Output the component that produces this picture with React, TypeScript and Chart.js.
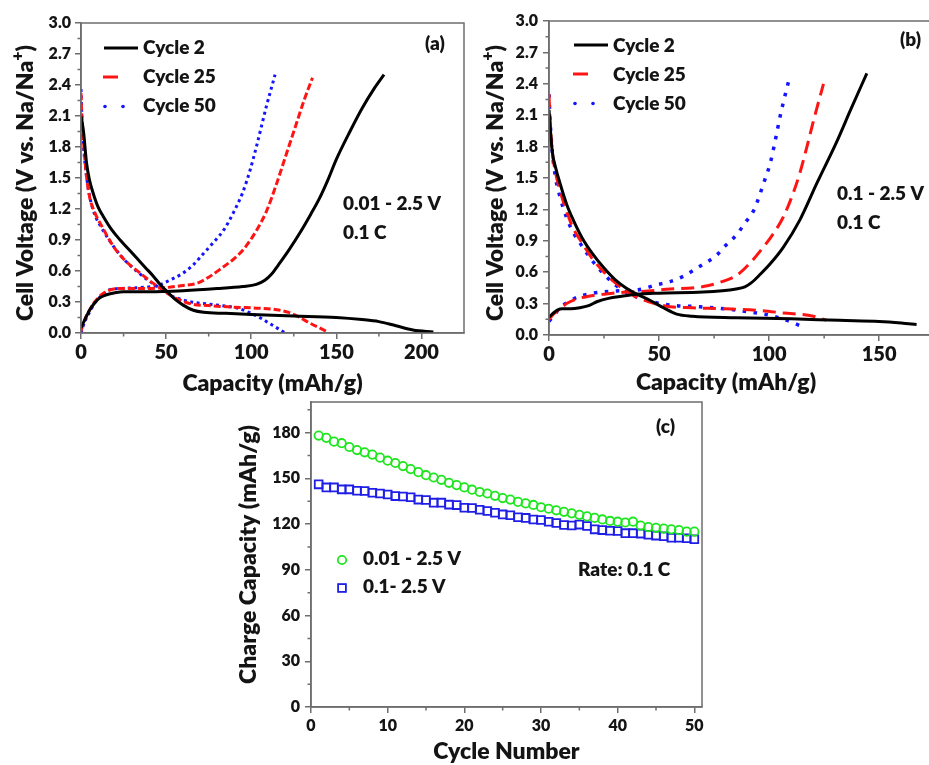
import React, { useEffect, useRef } from "react";
import { Chart, registerables } from "chart.js";

Chart.register(...registerables);

const FONT = "Lato, 'DejaVu Sans', sans-serif";
const WEIGHT = 800;
const AXIS = "#6e6e6e";
const INK = "#141414";
const BLACK = "#000000";
const RED = "#ff1414";
const BLUE = "#1414ff";
const GREEN = "#1ee61e";
const SQ_BLUE = "#1e1ee6";

type P = [number, number];

// ---------- Panel (a): 0.01 - 2.5 V ----------
const aCycle2Discharge: P[] = [
  [0, 2.1], [1.4, 1.96], [3.3, 1.64], [5, 1.48], [7.2, 1.35], [10, 1.22], [13, 1.13], [18, 1.0],
  [23, 0.9], [28, 0.81], [33, 0.72], [38, 0.63], [42.5, 0.55], [46, 0.48], [50, 0.41], [55, 0.33],
  [60, 0.27], [66, 0.22], [72, 0.2], [85, 0.19], [100, 0.18], [125, 0.165], [150, 0.15], [165, 0.13],
  [175, 0.11], [185, 0.07], [195, 0.03], [207, 0.01],
];
const aCycle2Charge: P[] = [
  [0, 0.05], [2, 0.12], [5, 0.22], [8, 0.29], [11, 0.34], [15, 0.37], [20, 0.39], [25, 0.4],
  [40, 0.4], [60, 0.41], [80, 0.43], [95, 0.45], [103, 0.47], [108, 0.51], [112, 0.57], [116, 0.66],
  [122, 0.8], [129, 0.98], [135, 1.15], [140, 1.3], [145, 1.48], [150, 1.68], [158, 1.95],
  [165, 2.17], [172, 2.36], [178, 2.5],
];
const aCycle25Discharge: P[] = [
  [0, 2.32], [0.5, 2.1], [1.5, 1.85], [3, 1.55], [5, 1.32], [8, 1.17], [12, 1.04], [19, 0.84],
  [26, 0.7], [34.7, 0.58], [42.5, 0.48], [48, 0.42], [53, 0.36], [58, 0.32], [65, 0.28], [75, 0.265],
  [90, 0.25], [105, 0.24], [115, 0.225], [122, 0.2], [128, 0.155], [134, 0.1], [140, 0.05], [145, 0.01],
];
const aCycle25Charge: P[] = [
  [0, 0.02], [2, 0.12], [5, 0.22], [8, 0.3], [12, 0.37], [16, 0.41], [22, 0.43], [35, 0.43],
  [50, 0.44], [60, 0.46], [68, 0.48], [75, 0.54], [82, 0.62], [90, 0.72], [96, 0.82], [103, 0.99],
  [109, 1.18], [115, 1.45], [119, 1.65], [123, 1.85], [127, 2.05], [131, 2.25], [136, 2.47],
];
const aCycle50Discharge: P[] = [
  [0, 2.36], [0.5, 2.1], [1.5, 1.8], [3, 1.55], [5, 1.33], [8, 1.15], [12, 1.02], [19, 0.84],
  [26, 0.7], [34, 0.58], [42, 0.48], [48, 0.42], [53, 0.36], [58, 0.33], [65, 0.3], [75, 0.28],
  [85, 0.26], [92, 0.24], [100, 0.19], [106, 0.14], [111, 0.09], [116, 0.04], [120, 0.0],
];
const aCycle50Charge: P[] = [
  [0, 0.0], [2, 0.1], [5, 0.2], [8, 0.29], [12, 0.36], [17, 0.42], [22, 0.43], [35, 0.44],
  [45, 0.46], [52, 0.51], [60, 0.58], [66, 0.66], [72, 0.77], [78, 0.88], [84, 1.0], [90, 1.18],
  [95, 1.36], [99.4, 1.58], [103, 1.8], [106, 2.0], [109, 2.2], [111.5, 2.35], [114, 2.5],
];

// ---------- Panel (b): 0.1 - 2.5 V ----------
const bCycle2Discharge: P[] = [
  [0, 2.15], [0.5, 2.0], [1.5, 1.75], [3, 1.6], [5, 1.45], [8, 1.25], [11, 1.1], [15, 0.93],
  [20, 0.77], [25, 0.64], [30, 0.53], [35, 0.45], [40, 0.39], [46, 0.33], [52, 0.26], [58, 0.2],
  [65, 0.18], [85, 0.165], [110, 0.155], [132, 0.14], [150, 0.13], [160, 0.115], [167, 0.1],
];
const bCycle2Charge: P[] = [
  [0, 0.17], [2, 0.21], [4, 0.24], [6, 0.25], [10, 0.25], [14, 0.26], [18, 0.28], [22, 0.32],
  [27, 0.35], [33, 0.37], [40, 0.39], [50, 0.4], [70, 0.41], [85, 0.44], [89, 0.46], [92, 0.5],
  [96, 0.58], [100.5, 0.68], [106.5, 0.84], [114, 1.1], [121.7, 1.45], [130.8, 1.85], [137, 2.15],
  [144.4, 2.5],
];
const bCycle25Discharge: P[] = [
  [0, 2.3], [0.5, 2.05], [1.5, 1.75], [3, 1.55], [5, 1.38], [8, 1.18], [11, 1.02], [15, 0.88],
  [20, 0.72], [25, 0.6], [30, 0.5], [35, 0.42], [40, 0.36], [45, 0.32], [50, 0.29], [55, 0.27],
  [65, 0.26], [80, 0.25], [95, 0.235], [106.5, 0.21], [120, 0.18], [126, 0.14],
];
const bCycle25Charge: P[] = [
  [0, 0.15], [2, 0.2], [5, 0.25], [8, 0.3], [12, 0.34], [18, 0.37], [25, 0.39], [35, 0.41],
  [45, 0.42], [55, 0.44], [65, 0.45], [72, 0.47], [80, 0.52], [85.3, 0.57], [91, 0.68], [97.4, 0.84],
  [102, 0.97], [106.5, 1.13], [110.5, 1.33], [114, 1.55], [117.2, 1.8], [120.2, 2.05], [124.7, 2.4],
];
const bCycle50Discharge: P[] = [
  [0, 2.3], [0.5, 2.05], [1.5, 1.75], [3, 1.5], [5, 1.32], [8, 1.12], [11, 0.98], [15, 0.85],
  [20, 0.7], [25, 0.58], [30, 0.48], [35, 0.41], [40, 0.36], [45, 0.33], [50.5, 0.3], [58, 0.28],
  [68.6, 0.27], [80, 0.25], [88, 0.23], [94.4, 0.21], [100, 0.19], [108, 0.14], [114, 0.09],
];
const bCycle50Charge: P[] = [
  [0, 0.13], [2, 0.18], [5, 0.26], [9, 0.32], [14, 0.37], [20, 0.4], [30, 0.42], [40, 0.43],
  [49, 0.48], [55, 0.51], [61, 0.56], [68, 0.65], [76, 0.76], [80, 0.85], [85.3, 0.96], [89, 1.07],
  [93, 1.19], [98, 1.48], [100.5, 1.64], [103, 1.88], [105, 2.09], [107, 2.27], [108.8, 2.42],
];

// ---------- Panel (c): cycling ----------
const cycles = [
  1, 2, 3, 4, 5, 6, 7, 8, 9, 10, 11, 12, 13, 14, 15, 16, 17, 18, 19, 20, 21, 22, 23, 24, 25,
  26, 27, 28, 29, 30, 31, 32, 33, 34, 35, 36, 37, 38, 39, 40, 41, 42, 43, 44, 45, 46, 47, 48, 49, 50,
];
const chargeWide = [
  178, 176.5, 174, 173, 170.5, 168.5, 167, 165.5, 163.5, 161.5, 160, 158, 156, 154, 152, 150.5,
  149, 147, 145.5, 144, 142.5, 141, 140, 138.5, 137, 136, 134.5, 133.5, 132.5, 131, 130, 129, 128,
  127, 126, 125, 124, 123, 122, 121.5, 121, 121.5, 119, 118, 117.5, 117, 116.5, 116, 115, 115,
];
const chargeNarrow = [
  146, 144, 144, 142.7, 142.7, 141.8, 141.6, 140.5, 140, 139.4, 138.3, 138, 137.5, 136, 135.7, 134,
  134, 132.7, 132.4, 130.7, 130.5, 129.4, 128.5, 127.4, 126.3, 125.7, 124.4, 124, 123, 122.6, 121.5,
  120.7, 119.4, 119, 119.6, 118.7, 116.5, 116, 115.6, 115.4, 114, 114, 113.7, 113, 112.4, 112, 111,
  111, 110.6, 110,
];

// ---------- Tick values ----------
const capTicksA = [0, 50, 100, 150, 200];
const capMinorA = [25, 75, 125, 175];
const capTicksB = [0, 50, 100, 150];
const capMinorB = [25, 75, 125];
const voltTicks = [0, 0.3, 0.6, 0.9, 1.2, 1.5, 1.8, 2.1, 2.4, 2.7, 3.0];
const voltMinor = [0.15, 0.45, 0.75, 1.05, 1.35, 1.65, 1.95, 2.25, 2.55, 2.85];
const cycleTicks = [0, 10, 20, 30, 40, 50];
const cycleMinor = [5, 15, 25, 35, 45];
const chargeTicks = [0, 30, 60, 90, 120, 150, 180];
const chargeMinor = [15, 45, 75, 105, 135, 165, 195];

const toXY = (pts: P[]) => pts.map(([x, y]) => ({ x, y }));

// ---------- Plugin: frame, minor ticks, legend, notes ----------
const notesPlugin = {
  id: "notes",
  afterDraw(chart: any, _args: any, opts: any) {
    const { ctx, chartArea: a } = chart;
    ctx.save();
    ctx.strokeStyle = AXIS;
    ctx.lineWidth = 1.5;
    ctx.strokeRect(a.left, a.top, a.right - a.left, a.bottom - a.top);
    const xs = chart.scales.x;
    const ys = chart.scales.y;
    ctx.beginPath();
    for (const v of opts.xMinor || []) {
      const px = xs.getPixelForValue(v);
      ctx.moveTo(px, a.bottom);
      ctx.lineTo(px, a.bottom + 3.5);
    }
    for (const v of opts.yMinor || []) {
      const py = ys.getPixelForValue(v);
      ctx.moveTo(a.left, py);
      ctx.lineTo(a.left - 3.5, py);
    }
    ctx.stroke();

    for (const s of opts.samples || []) {
      ctx.setLineDash([]);
      if (s.kind === "line") {
        ctx.strokeStyle = s.color;
        ctx.lineWidth = s.width;
        ctx.beginPath();
        ctx.moveTo(s.x1, s.y);
        ctx.lineTo(s.x2, s.y);
        ctx.stroke();
      } else if (s.kind === "dots") {
        ctx.fillStyle = s.color;
        for (const x of s.xs) {
          ctx.beginPath();
          ctx.arc(x, s.y, s.r, 0, Math.PI * 2);
          ctx.fill();
        }
      } else if (s.kind === "circle") {
        ctx.strokeStyle = s.color;
        ctx.lineWidth = s.width;
        ctx.beginPath();
        ctx.arc(s.x, s.y, s.r, 0, Math.PI * 2);
        ctx.stroke();
      } else if (s.kind === "square") {
        ctx.strokeStyle = s.color;
        ctx.lineWidth = s.width;
        ctx.strokeRect(s.x - s.half, s.y - s.half, s.half * 2, s.half * 2);
      }
    }
    for (const t of opts.texts || []) {
      ctx.font = `${WEIGHT} ${t.size}px ${FONT}`;
      ctx.fillStyle = INK;
      ctx.textAlign = t.align || "left";
      ctx.textBaseline = t.baseline || "alphabetic";
      ctx.fillText(t.text, t.x, t.y);
    }
    // rotated axis title with superscript parts
    const vt = opts.vtitle;
    if (vt) {
      ctx.fillStyle = INK;
      ctx.textAlign = "left";
      ctx.textBaseline = "alphabetic";
      let total = 0;
      for (const p of vt.parts) {
        ctx.font = `${WEIGHT} ${p.size}px ${FONT}`;
        total += ctx.measureText(p.text).width;
      }
      ctx.translate(vt.x, vt.y);
      ctx.rotate(-Math.PI / 2);
      let cx = -total / 2;
      for (const p of vt.parts) {
        ctx.font = `${WEIGHT} ${p.size}px ${FONT}`;
        ctx.fillText(p.text, cx, -(p.rise || 0));
        cx += ctx.measureText(p.text).width;
      }
    }
    ctx.restore();
  },
};

function axis(o: {
  min: number; max: number; ticks: number[]; fmt: (v: number) => string; horizontal: boolean;
  size: number; tickFont: number; tickPad: number; title?: string; titleFont?: number; titlePad?: any;
}) {
  return {
    type: "linear",
    min: o.min,
    max: o.max,
    afterBuildTicks: (s: any) => {
      s.ticks = o.ticks.map((v) => ({ value: v }));
    },
    afterFit: (s: any) => {
      if (o.horizontal) s.height = o.size;
      else s.width = o.size;
    },
    grid: { drawOnChartArea: false, drawTicks: true, tickLength: 6, color: AXIS, lineWidth: 1.5 },
    border: { display: true, color: AXIS, width: 1.5 },
    ticks: {
      color: INK,
      font: { family: FONT, size: o.tickFont, weight: WEIGHT },
      padding: o.tickPad,
      autoSkip: false,
      maxRotation: 0,
      callback: (v: any) => o.fmt(Number(v)),
    },
    title: o.title
      ? {
          display: true,
          text: o.title,
          color: INK,
          font: { family: FONT, size: o.titleFont, weight: WEIGHT },
          padding: o.titlePad,
        }
      : { display: false },
  };
}

function curve(pts: P[], color: string, width: number, dash: number[]) {
  return {
    data: toXY(pts),
    showLine: true,
    borderColor: color,
    borderWidth: width,
    borderDash: dash,
    pointRadius: 0,
    cubicInterpolationMode: "monotone",
    fill: false,
  };
}

const volt = (v: number) => v.toFixed(1);
const plain = (v: number) => String(v);

const voltTitleParts = [
  { text: "Cell Voltage (V vs. Na/Na", size: 23 },
  { text: "+", size: 16, rise: 10 },
  { text: ")", size: 23 },
];

function configA() {
  return {
    type: "scatter",
    data: {
      datasets: [
        curve(aCycle2Discharge, BLACK, 3, []),
        curve(aCycle2Charge, BLACK, 3, []),
        curve(aCycle25Discharge, RED, 3, [7, 3]),
        curve(aCycle25Charge, RED, 3, [7, 3]),
        curve(aCycle50Discharge, BLUE, 3, [3, 3.5]),
        curve(aCycle50Charge, BLUE, 3, [3, 3.5]),
      ],
    },
    options: {
      animation: false,
      responsive: false,
      devicePixelRatio: 1,
      layout: { padding: { top: 23, right: 6, left: 0, bottom: 0 } },
      scales: {
        x: axis({ min: 0, max: 225, ticks: capTicksA, fmt: plain, horizontal: true, size: 67, tickFont: 20, tickPad: 2,
          title: "Capacity (mAh/g)", titleFont: 23, titlePad: { top: 0, bottom: 3 } }),
        y: axis({ min: 0, max: 3.0, ticks: voltTicks, fmt: volt, horizontal: false, size: 81, tickFont: 16, tickPad: 4 }),
      },
      plugins: {
        legend: { display: false },
        tooltip: { enabled: false },
        notes: {
          xMinor: capMinorA,
          yMinor: voltMinor,
          vtitle: { x: 33, y: 183, parts: voltTitleParts },
          samples: [
            { kind: "line", x1: 104, x2: 138, y: 48, color: BLACK, width: 3 },
            { kind: "line", x1: 103, x2: 118, y: 77, color: RED, width: 3 },
            { kind: "dots", xs: [105, 123], y: 106.5, r: 1.8, color: BLUE },
          ],
          texts: [
            { text: "Cycle 2", x: 143, y: 54, size: 19 },
            { text: "Cycle 25", x: 143, y: 83, size: 19 },
            { text: "Cycle 50", x: 143, y: 112, size: 19 },
            { text: "(a)", x: 425, y: 50, size: 19 },
            { text: "0.01 - 2.5 V", x: 343, y: 210, size: 19 },
            { text: "0.1 C", x: 343, y: 239, size: 19 },
          ],
        },
      },
    },
    plugins: [notesPlugin],
  };
}

function configB() {
  return {
    type: "scatter",
    data: {
      datasets: [
        curve(bCycle2Discharge, BLACK, 3, []),
        curve(bCycle2Charge, BLACK, 3, []),
        curve(bCycle25Discharge, RED, 3, [13, 7]),
        curve(bCycle25Charge, RED, 3, [13, 7]),
        curve(bCycle50Discharge, BLUE, 3.5, [3.5, 7.5]),
        curve(bCycle50Charge, BLUE, 3.5, [3.5, 7.5]),
      ],
    },
    options: {
      animation: false,
      responsive: false,
      devicePixelRatio: 1,
      layout: { padding: { top: 21, right: 8, left: 0, bottom: 0 } },
      scales: {
        x: axis({ min: 0, max: 174, ticks: capTicksB, fmt: plain, horizontal: true, size: 65, tickFont: 20, tickPad: 2 }),
        y: axis({ min: 0, max: 3.0, ticks: voltTicks, fmt: volt, horizontal: false, size: 79, tickFont: 16, tickPad: 5 }),
      },
      plugins: {
        legend: { display: false },
        tooltip: { enabled: false },
        notes: {
          xMinor: capMinorB,
          yMinor: voltMinor,
          vtitle: { x: 33, y: 183, parts: voltTitleParts },
          samples: [
            { kind: "line", x1: 104, x2: 138, y: 45, color: BLACK, width: 3 },
            { kind: "line", x1: 103, x2: 118, y: 74, color: RED, width: 3 },
            { kind: "dots", xs: [105, 123], y: 103.5, r: 1.8, color: BLUE },
          ],
          texts: [
            { text: "Cycle 2", x: 143, y: 52, size: 19 },
            { text: "Cycle 25", x: 143, y: 81, size: 19 },
            { text: "Cycle 50", x: 143, y: 110, size: 19 },
            { text: "(b)", x: 430, y: 46, size: 19 },
            { text: "0.1 - 2.5 V", x: 367, y: 200, size: 19 },
            { text: "0.1 C", x: 367, y: 229, size: 19 },
            { text: "Capacity (mAh/g)", x: 256, y: 383, size: 23, align: "center", baseline: "middle" },
          ],
        },
      },
    },
    plugins: [notesPlugin],
  };
}

function configC() {
  return {
    type: "scatter",
    data: {
      datasets: [
        {
          label: "0.01 - 2.5 V",
          data: cycles.map((c, i) => ({ x: c, y: chargeWide[i] })),
          pointStyle: "circle",
          pointRadius: 4.2,
          pointBorderWidth: 1.8,
          pointBorderColor: GREEN,
          pointBackgroundColor: "rgba(0,0,0,0)",
          showLine: false,
        },
        {
          label: "0.1- 2.5 V",
          data: cycles.map((c, i) => ({ x: c, y: chargeNarrow[i] })),
          pointStyle: "rect",
          pointRadius: 5.5,
          pointBorderWidth: 1.8,
          pointBorderColor: SQ_BLUE,
          pointBackgroundColor: "rgba(0,0,0,0)",
          showLine: false,
        },
      ],
    },
    options: {
      animation: false,
      responsive: false,
      devicePixelRatio: 1,
      layout: { padding: { top: 17, right: 8, left: 0, bottom: 0 } },
      scales: {
        x: axis({ min: 0, max: 51, ticks: cycleTicks, fmt: plain, horizontal: true, size: 58, tickFont: 16, tickPad: 3,
          title: "Cycle Number", titleFont: 23, titlePad: { top: 0, bottom: 0 } }),
        y: axis({ min: 0, max: 200, ticks: chargeTicks, fmt: plain, horizontal: false, size: 81, tickFont: 16, tickPad: 5,
          title: "Charge Capacity (mAh/g)", titleFont: 23, titlePad: { top: 5, bottom: 0 } }),
      },
      plugins: {
        legend: { display: false },
        tooltip: { enabled: false },
        notes: {
          xMinor: cycleMinor,
          yMinor: chargeMinor,
          samples: [
            { kind: "circle", x: 112, y: 175, r: 4.2, color: GREEN, width: 1.8 },
            { kind: "square", x: 112, y: 203, half: 3.9, color: SQ_BLUE, width: 1.8 },
          ],
          texts: [
            { text: "(c)", x: 426, y: 48, size: 19 },
            { text: "0.01 - 2.5 V", x: 133, y: 180, size: 19 },
            { text: "0.1- 2.5 V", x: 133, y: 208, size: 19 },
            { text: "Rate: 0.1 C", x: 348, y: 191, size: 19 },
          ],
        },
      },
    },
    plugins: [notesPlugin],
  };
}

function Panel(props: { make: () => any; left: number; top: number; w: number; h: number }) {
  const ref = useRef<HTMLCanvasElement>(null);
  useEffect(() => {
    const chart = new Chart(ref.current as HTMLCanvasElement, props.make());
    return () => chart.destroy();
  }, []);
  return (
    <canvas
      ref={ref}
      width={props.w}
      height={props.h}
      style={{ position: "absolute", left: props.left, top: props.top, width: props.w, height: props.h }}
    />
  );
}

export default function App() {
  return (
    <div
      style={{
        position: "absolute",
        left: 0,
        top: 0,
        width: 929,
        height: 765,
        overflow: "hidden",
        background: "#ffffff",
      }}
    >
      <Panel make={configA} left={0} top={0} w={470} h={400} />
      <Panel make={configB} left={470} top={0} w={470} h={400} />
      <Panel make={configC} left={230} top={385} w={480} h={380} />
    </div>
  );
}
